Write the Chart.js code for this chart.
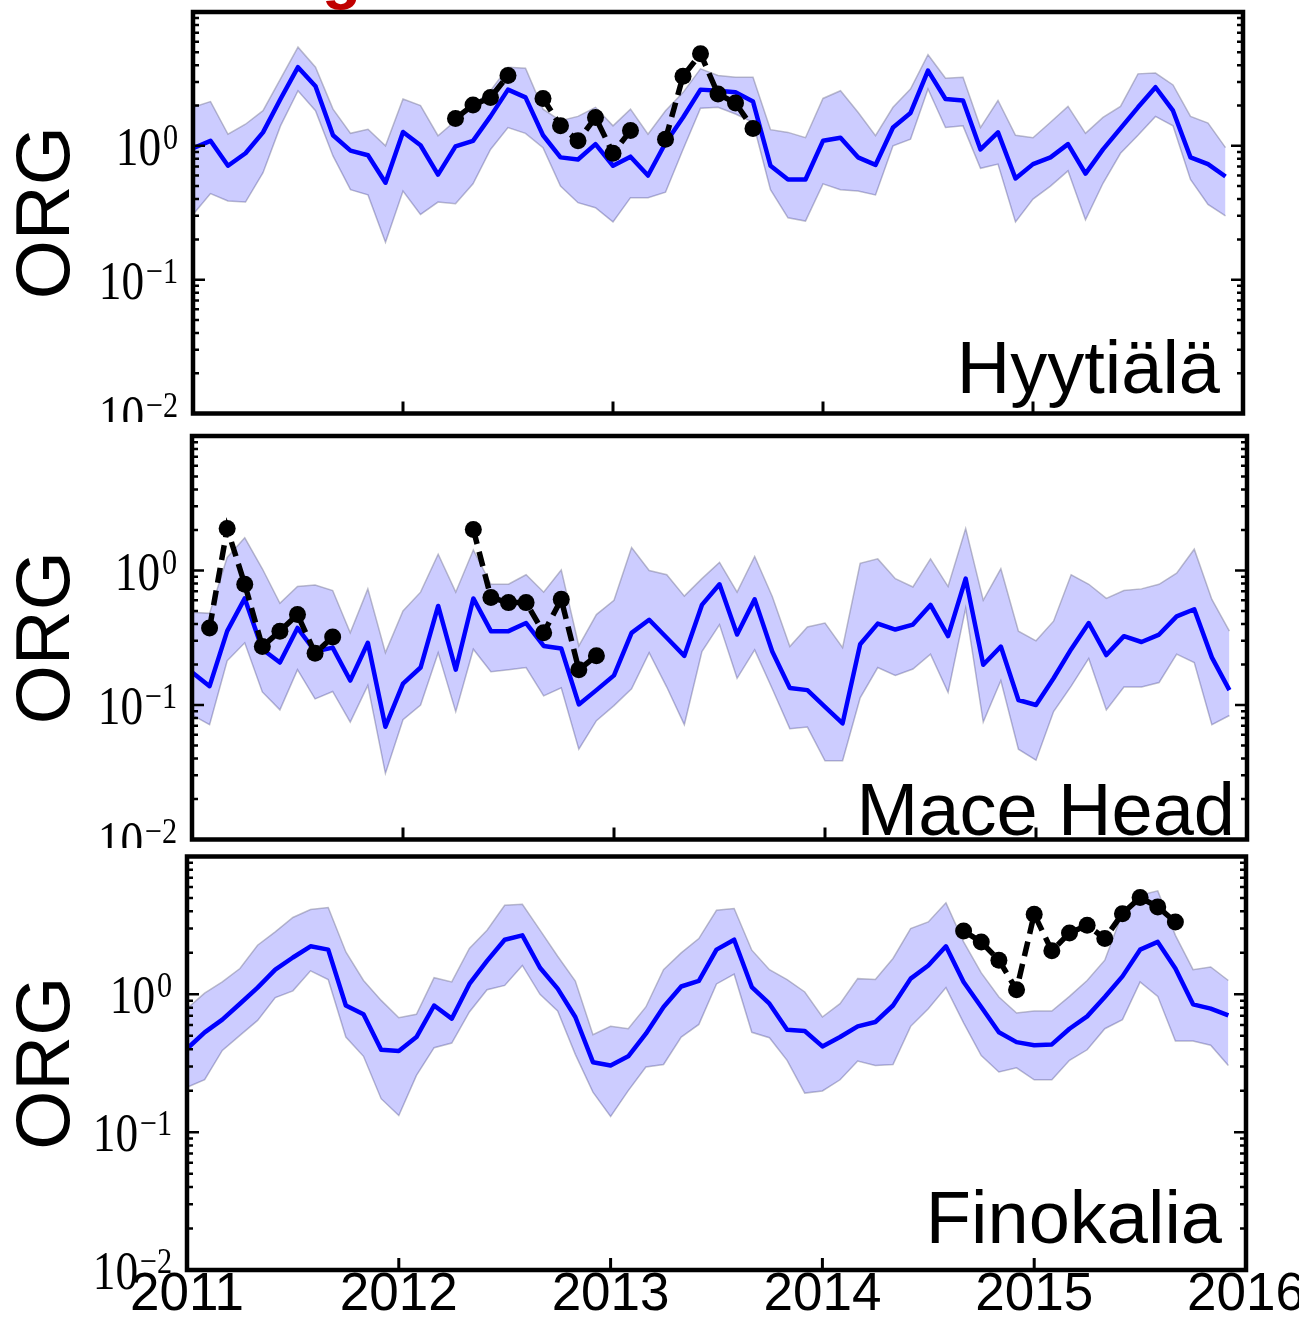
<!DOCTYPE html>
<html>
<head>
<meta charset="utf-8">
<script src="https://cdn.jsdelivr.net/npm/chart.js@4.4.1/dist/chart.umd.min.js"></script>
<style>
  html, body { margin: 0; padding: 0; background: #fff; }
  #wrap { position: relative; width: 1299px; height: 1318px; overflow: hidden; background: #fff; }
  .panel { position: absolute; left: 0; width: 1299px; background: #fff; }
  canvas { display: block; }
</style>
</head>
<body>
<div id="wrap">
  <div class="panel" style="top:0px;height:422px"><canvas id="c1" width="1299" height="422"></canvas></div>
  <div class="panel" style="top:422px;height:426px"><canvas id="c2" width="1299" height="426"></canvas></div>
  <div class="panel" style="top:848px;height:470px"><canvas id="c3" width="1299" height="470"></canvas></div>
</div>
<script>
// monthly axis, Jan 2011 .. Jan 2016
const YEARS = [2011, 2012, 2013, 2014, 2015, 2016];
const MONTHS = ['01', '02', '03', '04', '05', '06', '07', '08', '09', '10', '11', '12'];
const DECADES = [-2, -1, 0]; // labelled y ticks: 10^-2, 10^-1, 10^0

// Hyytiälä
const hyyModel = [0.96, 1.09, 0.71, 0.88, 1.26, 2.24, 3.87, 2.79, 1.20, 0.92, 0.85, 0.53, 1.27, 1.01, 0.61, 0.99, 1.09, 1.66, 2.63, 2.30,
  1.20, 0.82, 0.79, 1.03, 0.71, 0.83, 0.60, 1.05, 1.63, 2.63, 2.58, 2.51, 2.14, 0.71, 0.56, 0.56, 1.09, 1.15, 0.82, 0.72,
  1.37, 1.76, 3.65, 2.24, 2.18, 0.94, 1.26, 0.57, 0.73, 0.82, 1.03, 0.62, 0.94, 1.35, 1.94, 2.74, 1.83, 0.82, 0.73, 0.59];
const hyyUpper = [1.94, 2.14, 1.22, 1.45, 1.83, 3.16, 5.46, 3.87, 1.88, 1.24, 1.33, 1.00, 2.24, 2.00, 1.19, 1.54, 2.00, 2.58, 3.87, 3.80,
  1.88, 1.54, 1.66, 1.94, 1.41, 1.88, 1.22, 1.83, 2.50, 3.76, 3.35, 3.25, 3.25, 1.32, 1.26, 1.15, 2.26, 2.58, 1.78, 1.19,
  1.94, 2.66, 4.79, 3.20, 3.25, 1.37, 2.18, 1.20, 1.15, 1.50, 1.97, 1.24, 1.63, 1.97, 3.45, 3.50, 2.85, 1.66, 1.48, 0.97];
const hyyLower = [0.307, 0.44, 0.387, 0.38, 0.63, 1.41, 2.58, 1.83, 0.84, 0.47, 0.43, 0.19, 0.46, 0.307, 0.38, 0.37, 0.52, 0.94, 1.37, 1.24,
  0.97, 0.50, 0.376, 0.345, 0.27, 0.41, 0.41, 0.45, 0.94, 1.91, 1.94, 1.73, 1.50, 0.47, 0.29, 0.274, 0.52, 0.47, 0.46, 0.43,
  1.00, 1.12, 2.66, 1.37, 1.41, 0.68, 0.73, 0.27, 0.40, 0.50, 0.65, 0.28, 0.525, 0.88, 1.20, 1.66, 1.41, 0.56, 0.365, 0.30];
const hyyObs = [null, null, null, null, null, null, null, null, null, null, null, null, null, null, null, 1.60, 2.02, 2.30, 3.35, null,
  2.26, 1.41, 1.09, 1.63, 0.88, 1.30, null, 1.12, 3.31, 4.87, 2.44, 2.09, 1.35, null, null, null, null, null, null, null,
  null, null, null, null, null, null, null, null, null, null, null, null, null, null, null, null, null, null, null, null];

// Mace Head
const mhdModel = [0.175, 0.138, 0.354, 0.62, 0.26, 0.207, 0.374, 0.25, 0.267, 0.152, 0.29, 0.069, 0.144, 0.19, 0.545, 0.183, 0.62, 0.354, 0.354, 0.407,
  0.275, 0.263, 0.101, 0.129, 0.166, 0.344, 0.43, 0.316, 0.232, 0.555, 0.79, 0.334, 0.61, 0.25, 0.134, 0.129, 0.097, 0.073, 0.283, 0.403,
  0.364, 0.396, 0.555, 0.325, 0.87, 0.199, 0.272, 0.109, 0.10, 0.158, 0.26, 0.407, 0.235, 0.325, 0.294, 0.334, 0.456, 0.515, 0.226, 0.129];
const mhdUpper = [0.49, 0.48, 1.25, 1.75, 1.03, 0.57, 0.76, 0.78, 0.71, 0.344, 0.73, 0.245, 0.50, 0.69, 1.32, 0.69, 1.42, 0.79, 0.79, 0.93,
  0.69, 1.01, 0.275, 0.47, 0.60, 1.48, 1.0, 0.93, 0.645, 0.87, 1.15, 0.69, 1.27, 0.64, 0.272, 0.38, 0.407, 0.267, 1.13, 1.22,
  0.87, 0.755, 1.22, 0.76, 2.05, 0.60, 1.03, 0.354, 0.30, 0.42, 0.93, 0.79, 0.62, 0.71, 0.73, 0.79, 0.955, 1.44, 0.61, 0.354];
const mhdLower = [0.0845, 0.0714, 0.213, 0.29, 0.125, 0.092, 0.183, 0.111, 0.126, 0.0747, 0.14, 0.031, 0.0777, 0.10, 0.245, 0.0893, 0.26, 0.177, 0.183, 0.19,
  0.117, 0.134, 0.0469, 0.0764, 0.099, 0.132, 0.245, 0.136, 0.0714, 0.25, 0.396, 0.158, 0.257, 0.132, 0.0667, 0.0685, 0.0385, 0.0385, 0.113, 0.19,
  0.166, 0.185, 0.239, 0.124, 0.525, 0.0747, 0.152, 0.0469, 0.0389, 0.0893, 0.138, 0.222, 0.092, 0.136, 0.136, 0.147, 0.239, 0.207, 0.0714, 0.0836];
const mhdObs = [null, 0.374, 2.05, 0.79, 0.272, 0.354, 0.47, 0.243, 0.32, null, null, null, null, null, null, null, 2.02, 0.63, 0.577, 0.577,
  0.344, 0.61, 0.183, 0.232, null, null, null, null, null, null, null, null, null, null, null, null, null, null, null, null,
  null, null, null, null, null, null, null, null, null, null, null, null, null, null, null, null, null, null, null, null];

// Finokalia
const fklModel = [0.403, 0.53, 0.655, 0.855, 1.12, 1.51, 1.85, 2.23, 2.11, 0.83, 0.716, 0.396, 0.388, 0.49, 0.83, 0.666, 1.19, 1.75, 2.49, 2.68,
  1.56, 1.10, 0.685, 0.322, 0.305, 0.355, 0.518, 0.81, 1.14, 1.25, 2.11, 2.49, 1.13, 0.855, 0.554, 0.542, 0.419, 0.49, 0.586, 0.63,
  0.83, 1.30, 1.62, 2.23, 1.23, 0.81, 0.53, 0.45, 0.427, 0.433, 0.563, 0.692, 0.957, 1.35, 2.11, 2.40, 1.54, 0.846, 0.787, 0.703];
const fklUpper = [0.787, 1.02, 1.23, 1.54, 2.27, 2.84, 3.61, 4.12, 4.26, 2.03, 1.26, 0.904, 0.677, 0.716, 1.32, 1.23, 2.15, 2.92, 4.43, 4.50,
  2.92, 1.89, 1.25, 0.51, 0.586, 0.563, 0.81, 1.51, 2.00, 2.54, 4.07, 4.19, 2.09, 1.51, 1.28, 1.04, 0.685, 0.855, 1.30, 1.28,
  1.82, 3.00, 3.35, 4.61, 2.40, 1.43, 0.957, 0.732, 0.757, 0.757, 0.967, 1.26, 1.77, 3.90, 5.24, 5.63, 2.68, 1.51, 1.58, 1.26];
const fklLower = [0.212, 0.24, 0.392, 0.504, 0.647, 0.946, 1.06, 1.48, 1.28, 0.49, 0.355, 0.175, 0.132, 0.258, 0.41, 0.443, 0.745, 1.08, 1.16, 1.62,
  1.00, 0.757, 0.367, 0.195, 0.13, 0.20, 0.297, 0.31, 0.49, 0.605, 1.19, 1.40, 0.53, 0.484, 0.332, 0.192, 0.199, 0.24, 0.328, 0.305,
  0.31, 0.586, 0.787, 1.12, 0.62, 0.36, 0.273, 0.293, 0.24, 0.24, 0.332, 0.396, 0.563, 0.655, 1.23, 0.967, 0.458, 0.458, 0.427, 0.305];
const fklObs = [null, null, null, null, null, null, null, null, null, null, null, null, null, null, null, null, null, null, null, null,
  null, null, null, null, null, null, null, null, null, null, null, null, null, null, null, null, null, null, null, null,
  null, null, null, null, 2.88, 2.40, 1.77, 1.08, 3.81, 2.07, 2.79, 3.17, 2.54, 3.85, 5.04, 4.31, 3.35, null, null, null];

const months = [];
YEARS.forEach(yr => MONTHS.forEach(m => {
  if (yr < 2016 || m === '01') months.push(yr + '-' + m);
}));

const W = 1299;

// page-level layout of the three stacked panels
const panels = [
  { id: 'c1', top: 0, h: 422, left: 193, right: 1243, cTop: 12, cBottom: 417, name: 'Hyytiälä', nameRight: 1220, nameBase: 393,
    xLabels: false, redTitle: true, model: hyyModel, upper: hyyUpper, lower: hyyLower, obs: hyyObs },
  { id: 'c2', top: 422, h: 426, left: 192, right: 1247, cTop: 436, cBottom: 846, name: 'Mace Head', nameRight: 1235, nameBase: 835,
    xLabels: false, redTitle: false, model: mhdModel, upper: mhdUpper, lower: mhdLower, obs: mhdObs },
  { id: 'c3', top: 848, h: 470, left: 187, right: 1246, cTop: 856, cBottom: 1270, name: 'Finokalia', nameRight: 1222, nameBase: 1243,
    xLabels: true, redTitle: false, model: fklModel, upper: fklUpper, lower: fklLower, obs: fklObs }
];

const framePlugin = {
  id: 'frame',
  afterDraw(chart, args, opts) {
    const { ctx, chartArea: a, scales: { x, y } } = chart;
    ctx.save();
    ctx.strokeStyle = '#000';
    ctx.fillStyle = '#000';

    // inward log ticks on both sides
    ctx.lineWidth = 2.5;
    ctx.beginPath();
    for (let e = -2; e <= 0; e++) {
      for (let m = 1; m <= 9; m++) {
        const py = y.getPixelForValue(m * Math.pow(10, e));
        const len = m === 1 ? 12 : 6;
        ctx.moveTo(a.left, py); ctx.lineTo(a.left + len, py);
        ctx.moveTo(a.right, py); ctx.lineTo(a.right - len, py);
      }
    }
    ctx.stroke();

    // inward year ticks on the bottom edge
    ctx.lineWidth = 3;
    ctx.beginPath();
    months.forEach((lab, i) => {
      if (!lab.endsWith('-01')) return;
      const px = x.getPixelForValue(i);
      if (px <= a.left + 3 || px >= a.right - 3) return;
      ctx.moveTo(px, a.bottom); ctx.lineTo(px, a.bottom - 12);
    });
    ctx.stroke();

    ctx.lineWidth = 4.5;
    ctx.strokeRect(a.left, a.top, a.right - a.left, a.bottom - a.top);

    // 10^n labels
    DECADES.forEach(e => {
      const py = y.getPixelForValue(Math.pow(10, e));
      const sup = e === 0 ? '0' : '\u2212' + (-e);
      ctx.save();
      ctx.translate(a.left - 15, py);
      ctx.scale(0.84, 1);
      ctx.textAlign = 'right';
      ctx.textBaseline = 'alphabetic';
      ctx.font = '36px "Liberation Serif"';
      const sw = ctx.measureText(sup).width;
      ctx.fillText(sup, 0, 3);
      ctx.font = '54px "Liberation Serif"';
      ctx.fillText('10', -sw - 2, 19);
      ctx.restore();
    });

    // station name
    ctx.font = '74px "Liberation Sans"';
    ctx.textAlign = 'right';
    ctx.textBaseline = 'alphabetic';
    ctx.fillText(opts.name, opts.nameRight, opts.nameBase);

    // cut-off red title above the first panel
    if (opts.redTitle) {
      ctx.fillStyle = '#c00000';
      ctx.font = 'bold 64px "Liberation Sans"';
      ctx.textAlign = 'left';
      ctx.fillText('g', 322, -3);
    }
    ctx.restore();
  }
};

panels.forEach(p => {
  const bottomSpace = p.top + p.h - p.cBottom;
  new Chart(document.getElementById(p.id), {
    type: 'line',
    data: {
      labels: months,
      datasets: [
        {
          label: 'observed',
          data: p.obs,
          borderColor: '#000',
          backgroundColor: '#000',
          borderWidth: 5.5,
          borderDash: [15, 8],
          pointRadius: 8.5,
          pointBorderWidth: 0,
          pointBackgroundColor: '#000',
          spanGaps: false,
          fill: false,
          order: 0
        },
        {
          label: 'model',
          data: p.model,
          borderColor: '#0000ff',
          borderWidth: 4.5,
          borderJoinStyle: 'round',
          pointRadius: 0,
          fill: false,
          order: 1
        },
        {
          label: 'upper',
          data: p.upper,
          borderColor: 'rgba(110,110,140,0.45)',
          borderWidth: 1.5,
          backgroundColor: 'rgba(0,0,255,0.2)',
          pointRadius: 0,
          fill: '+1',
          order: 2
        },
        {
          label: 'lower',
          data: p.lower,
          borderColor: 'rgba(110,110,140,0.45)',
          borderWidth: 1.5,
          pointRadius: 0,
          fill: false,
          order: 3
        }
      ]
    },
    options: {
      responsive: false,
      animation: false,
      layout: {
        padding: { left: 0, top: p.cTop - p.top, right: W - p.right, bottom: 0 }
      },
      elements: { line: { tension: 0 } },
      plugins: {
        legend: { display: false },
        tooltip: { enabled: false },
        frame: { name: p.name, nameRight: p.nameRight, nameBase: p.nameBase - p.top, redTitle: p.redTitle }
      },
      scales: {
        x: {
          type: 'category',
          offset: false,
          grid: { display: false, drawTicks: false },
          border: { display: false },
          ticks: {
            display: p.xLabels,
            autoSkip: false,
            maxRotation: 0,
            padding: -1,
            color: '#000',
            font: { family: 'Liberation Sans', size: 53, lineHeight: 1 },
            callback: function (value) {
              const lab = this.getLabelForValue(value);
              return lab.endsWith('-01') ? lab.slice(0, 4) : '';
            }
          },
          afterFit: s => { s.height = bottomSpace; s.paddingLeft = 0; s.paddingRight = 0; }
        },
        y: {
          type: 'logarithmic',
          min: 0.01,
          max: 10,
          grid: { display: false, drawTicks: false },
          border: { display: false },
          ticks: { display: false },
          title: {
            display: true,
            text: 'ORG',
            color: '#000',
            font: { family: 'Liberation Sans', size: 76 },
            padding: { top: 2, bottom: 0 }
          },
          afterFit: s => { s.width = p.left; s.paddingTop = 0; s.paddingBottom = 0; }
        }
      }
    },
    plugins: [framePlugin]
  });
});
</script>
</body>
</html>
